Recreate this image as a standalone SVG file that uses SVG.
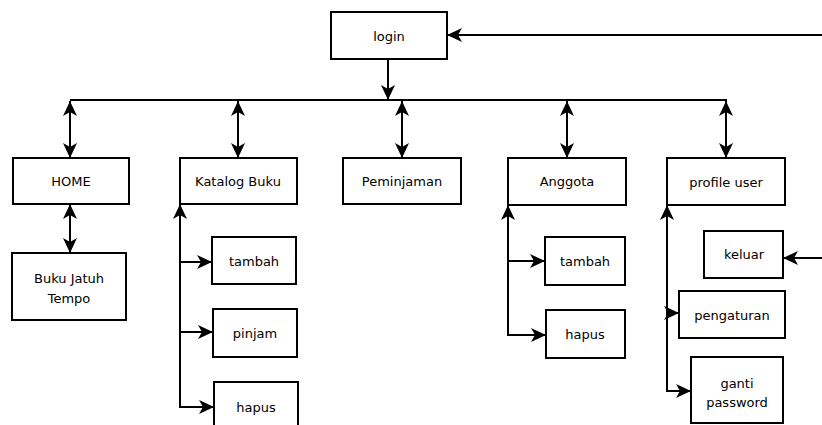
<svg xmlns="http://www.w3.org/2000/svg" width="822" height="425" viewBox="0 0 822 425">
<style>
.box{fill:#fff;stroke:#000;stroke-width:2}
.lbl{font-family:"DejaVu Sans",Verdana,sans-serif;font-size:13px;fill:#000;text-anchor:middle}
.c{fill:none;stroke:#000;stroke-width:2}
.a{marker-end:url(#arr)}
.d{marker-start:url(#arr);marker-end:url(#arr)}
</style>
<defs>
<marker id="arr" markerUnits="userSpaceOnUse" markerWidth="16" markerHeight="14" refX="15" refY="7" orient="auto-start-reverse" viewBox="0 0 16 14">
<path d="M0,0 L15,7 L0,14 L4,7 Z" fill="#000"/>
</marker>
</defs>
<rect width="822" height="425" fill="#fff"/>
<g id="connectors">
<line class="c a" x1="388" y1="59" x2="388" y2="100"/>
<line class="c" x1="70" y1="100" x2="727" y2="100"/>
<line class="c d" x1="70" y1="101" x2="70" y2="158"/>
<line class="c d" x1="238" y1="101" x2="238" y2="158"/>
<line class="c d" x1="402" y1="101" x2="402" y2="158"/>
<line class="c d" x1="567" y1="101" x2="567" y2="158"/>
<line class="c d" x1="726" y1="101" x2="726" y2="158"/>
<line class="c a" x1="822" y1="35" x2="447" y2="35"/>
<line class="c d" x1="70" y1="204" x2="70" y2="253"/>
<line class="c a" x1="180" y1="407" x2="180" y2="204"/>
<line class="c a" x1="180" y1="262" x2="212" y2="262"/>
<line class="c a" x1="180" y1="332" x2="213" y2="332"/>
<line class="c a" x1="179" y1="407" x2="214" y2="407"/>
<line class="c a" x1="508" y1="336" x2="508" y2="205"/>
<line class="c a" x1="508" y1="261" x2="545" y2="261"/>
<line class="c a" x1="507" y1="335" x2="546" y2="335"/>
<line class="c a" x1="667" y1="391" x2="667" y2="205"/>
<line class="c a" x1="667" y1="313" x2="679" y2="313"/>
<line class="c a" x1="666" y1="391" x2="691" y2="391"/>
<line class="c a" x1="822" y1="258" x2="783" y2="258"/>
</g>
<g id="login"><rect class="box" x="331" y="12" width="116" height="47"/><text class="lbl" x="389" y="41">login</text></g>
<g id="home"><rect class="box" x="13" y="158" width="116" height="46"/><text class="lbl" x="71" y="186">HOME</text></g>
<g id="katalog"><rect class="box" x="180" y="158" width="117" height="46"/><text class="lbl" x="238" y="186">Katalog Buku</text></g>
<g id="peminjaman"><rect class="box" x="343" y="158" width="118" height="46"/><text class="lbl" x="402" y="186">Peminjaman</text></g>
<g id="anggota"><rect class="box" x="508" y="158" width="118" height="47"/><text class="lbl" x="567" y="186">Anggota</text></g>
<g id="profile"><rect class="box" x="667" y="158" width="118" height="47"/><text class="lbl" x="726" y="187">profile user</text></g>
<g id="buku-jatuh-tempo"><rect class="box" x="12" y="253" width="114" height="67"/><text class="lbl" x="69" y="283">Buku Jatuh</text><text class="lbl" x="69" y="303">Tempo</text></g>
<g id="katalog-tambah"><rect class="box" x="212" y="237" width="84" height="47"/><text class="lbl" x="254" y="266">tambah</text></g>
<g id="katalog-pinjam"><rect class="box" x="213" y="309" width="84" height="48"/><text class="lbl" x="255" y="338">pinjam</text></g>
<g id="katalog-hapus"><rect class="box" x="214" y="382" width="84" height="50"/><text class="lbl" x="256" y="412">hapus</text></g>
<g id="anggota-tambah"><rect class="box" x="545" y="237" width="80" height="48"/><text class="lbl" x="585" y="266">tambah</text></g>
<g id="anggota-hapus"><rect class="box" x="546" y="310" width="79" height="48"/><text class="lbl" x="585" y="339">hapus</text></g>
<g id="keluar"><rect class="box" x="704" y="231" width="79" height="47"/><text class="lbl" x="744" y="259">keluar</text></g>
<g id="pengaturan"><rect class="box" x="679" y="291" width="106" height="47"/><text class="lbl" x="732" y="320">pengaturan</text></g>
<g id="ganti-password"><rect class="box" x="691" y="357" width="92" height="66"/><text class="lbl" x="737" y="388">ganti</text><text class="lbl" x="737" y="407">password</text></g>
</svg>
